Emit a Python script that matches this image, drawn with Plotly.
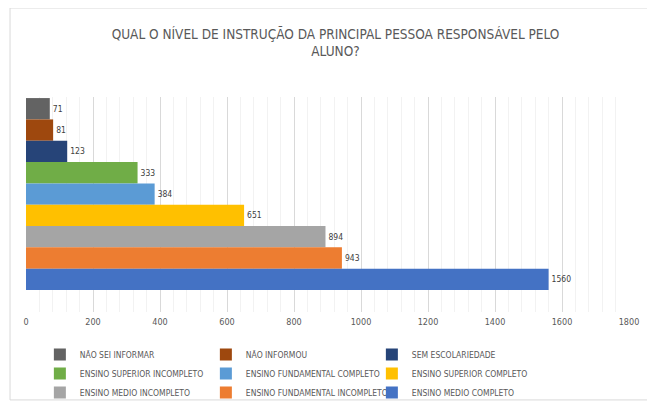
import plotly.graph_objects as go

# categorias (ordem de cima para baixo no gráfico)
categorias = [
    'NÃO SEI INFORMAR',
    'NÃO INFORMOU',
    'SEM ESCOLARIEDADE',
    'ENSINO SUPERIOR INCOMPLETO',
    'ENSINO FUNDAMENTAL COMPLETO',
    'ENSINO SUPERIOR COMPLETO',
    'ENSINO MEDIO INCOMPLETO',
    'ENSINO FUNDAMENTAL INCOMPLETO',
    'ENSINO MEDIO COMPLETO',
]
valores = [71, 81, 123, 333, 384, 651, 894, 943, 1560]
cores = ['#636363', '#9E480E', '#264478', '#70AD47', '#5B9BD5',
         '#FFC000', '#A5A5A5', '#ED7D31', '#4472C4']

fonte = 'DejaVu Sans Condensed'

fig = go.Figure()
for nome, v, cor in zip(categorias, valores, cores):
    fig.add_trace(go.Bar(
        x=[v], y=[0], orientation='h', name=nome,
        marker=dict(color=cor, line=dict(width=0)),
        text=[str(v)], textposition='outside', cliponaxis=False,
        textfont=dict(size=8.5, color='#404040', family=fonte),
    ))

fig.update_layout(
    width=655, height=405,
    barmode='group', bargap=0.1, bargroupgap=0,
    plot_bgcolor='white', paper_bgcolor='white',
    margin=dict(l=18, r=34, t=89, b=101, autoexpand=False),
    font=dict(family=fonte, color='#595959'),
    title=dict(
        text='QUAL O NÍVEL DE INSTRUÇÃO DA PRINCIPAL PESSOA RESPONSÁVEL PELO<br>ALUNO?',
        x=0.5, xanchor='center', y=0.924, yanchor='top',
        font=dict(size=13.5, color='#595959', family=fonte),
    ),
    xaxis=dict(
        range=[0, 1800], dtick=200, showgrid=True, gridcolor='#D9D9D9',
        zeroline=False, showline=False, ticks='', ticklabelstandoff=3,
        tickfont=dict(size=9, color='#595959'),
        minor=dict(dtick=40, showgrid=True, gridcolor='#F2F2F2'),
    ),
    yaxis=dict(range=[0.553, -0.455], showticklabels=False, showgrid=False,
               zeroline=False, showline=False),
    legend=dict(
        orientation='h', x=0.023, xanchor='left', y=-0.13, yanchor='top',
        entrywidth=121, font=dict(size=8.5, color='#595959'),
        traceorder='normal', bgcolor='rgba(0,0,0,0)',
    ),
    showlegend=True,
    shapes=[dict(type='rect', xref='paper', yref='paper',
                 x0=-0.0265, x1=1.031, y0=-0.409, y1=1.414,
                 line=dict(color='#D9D9D9', width=1))],
)

fig.write_html('out.html')
